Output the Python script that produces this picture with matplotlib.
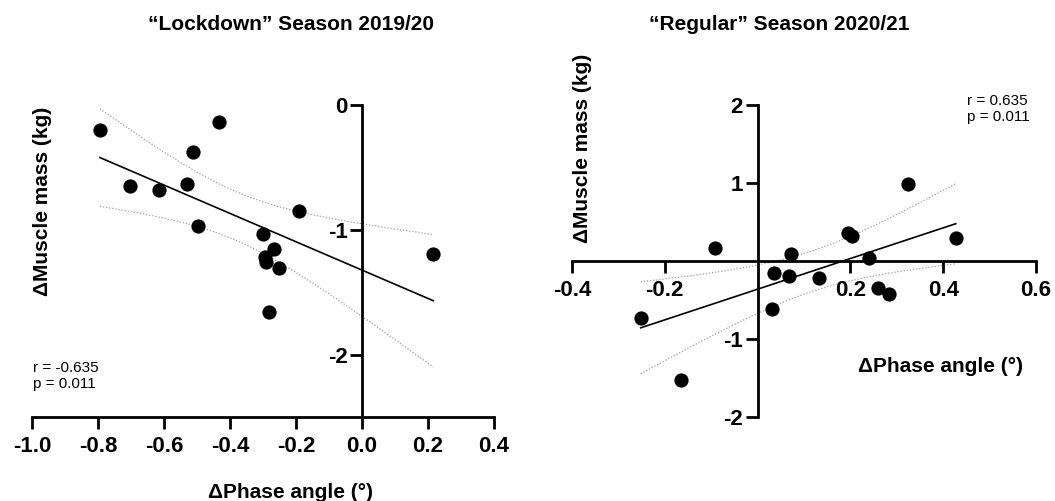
import numpy as np
import matplotlib
matplotlib.use("Agg")
import matplotlib.pyplot as plt

plt.rcParams['font.family'] = ['Liberation Sans', 'DejaVu Sans']
plt.rcParams['axes.unicode_minus'] = False

# ---- data ----
lock_phase = [-0.794, -0.434, -0.513, -0.703, -0.614, -0.531, -0.496, -0.191,
              -0.299, -0.267, -0.295, -0.290, -0.252, -0.283, 0.216]
lock_muscle = [-0.20, -0.14, -0.38, -0.65, -0.68, -0.63, -0.97, -0.85,
               -1.03, -1.15, -1.22, -1.26, -1.31, -1.66, -1.19]
reg_phase = [-0.252, -0.165, -0.091, 0.036, 0.072, 0.068, 0.031, 0.133,
             0.194, 0.203, 0.240, 0.260, 0.283, 0.325, 0.427]
reg_muscle = [-0.73, -1.52, 0.16, -0.16, 0.09, -0.20, -0.62, -0.22,
              0.36, 0.32, 0.04, -0.35, -0.43, 0.99, 0.29]
titles = ['\u201cLockdown\u201d Season 2019/20', '\u201cRegular\u201d Season 2020/21']
stats_text = ['r = -0.635\np = 0.011', 'r = 0.635\np = 0.011']
xlabel = '\u0394Phase angle (\u00b0)'
ylabel = '\u0394Muscle mass (kg)'
lock_xticks = [-1.0, -0.8, -0.6, -0.4, -0.2, 0.0, 0.2, 0.4]
lock_yticks = [0, -1, -2]
reg_xticks = [-0.4, -0.2, 0.2, 0.4, 0.6]
reg_yticks = [2, 1, -1, -2]
T_CRIT = 2.160  # t(0.975, df=13)

W, H = 1055, 501
fig = plt.figure(figsize=(W / 100, H / 100), dpi=100)

def fx(px):
    return px / W

def fy(py):
    return 1 - py / H

def fit_plot(ax, x, y):
    x = np.asarray(x); y = np.asarray(y)
    n = len(x)
    b, a = np.polyfit(x, y, 1)
    xs = np.linspace(x.min(), x.max(), 200)
    yh = a + b * xs
    resid = y - (a + b * x)
    s = np.sqrt(np.sum(resid ** 2) / (n - 2))
    sxx = np.sum((x - x.mean()) ** 2)
    se = s * np.sqrt(1 / n + (xs - x.mean()) ** 2 / sxx)
    ax.plot(xs, yh, color='black', lw=1.2, zorder=2)
    ax.plot(xs, yh + T_CRIT * se, color='#a0a0a0', lw=0.9, ls=(0, (1, 1.5)), zorder=1)
    ax.plot(xs, yh - T_CRIT * se, color='#a0a0a0', lw=0.9, ls=(0, (1, 1.5)), zorder=1)
    ax.scatter(x, y, s=105, color='black', zorder=3, linewidths=0)

def style(ax):
    for sp in ['top', 'right']:
        ax.spines[sp].set_visible(False)
    for sp in ['left', 'bottom']:
        ax.spines[sp].set_linewidth(2.0)
    ax.tick_params(width=2.0, length=8.5, labelsize=16, pad=2)
    for lab in ax.get_xticklabels() + ax.get_yticklabels():
        lab.set_fontweight('bold')
    ax.patch.set_alpha(0)

# Left panel
ax1 = fig.add_axes([fx(32), fy(417), fx(494) - fx(32), fy(105) - fy(417)])
fit_plot(ax1, lock_phase, lock_muscle)
ax1.set_xlim(-1.0, 0.4)
ax1.set_ylim(-2.5, 0)
ax1.spines['left'].set_position(('data', 0))
ax1.set_xticks(lock_xticks)
ax1.set_xticklabels([f'{v:.1f}' for v in lock_xticks])
ax1.set_yticks(lock_yticks)
ax1.set_yticklabels([f'{v:d}' for v in lock_yticks])
style(ax1)
ax1.tick_params(axis='x', pad=5)

# Right panel
ax2 = fig.add_axes([fx(572), fy(417), fx(1036) - fx(572), fy(104.7) - fy(417)])
fit_plot(ax2, reg_phase, reg_muscle)
ax2.set_xlim(-0.4, 0.6)
ax2.set_ylim(-2, 2)
ax2.spines['left'].set_position(('data', 0))
ax2.spines['bottom'].set_position(('data', 0))
ax2.set_xticks(reg_xticks)
ax2.set_xticklabels([f'{v:.1f}' for v in reg_xticks])
ax2.set_yticks(reg_yticks)
ax2.set_yticklabels([f'{v:d}' for v in reg_yticks])
style(ax2)
ax2.tick_params(axis='x', pad=5)

# Titles
fig.text(fx(291), fy(25), titles[0], ha='center', va='center', fontsize=15, fontweight='bold')
fig.text(fx(779), fy(25), titles[1], ha='center', va='center', fontsize=15, fontweight='bold')

# Axis labels
fig.text(fx(43), fy(201), ylabel, rotation=90, ha='center', va='center', fontsize=15, fontweight='bold')
fig.text(fx(583), fy(148), ylabel, rotation=90, ha='center', va='center', fontsize=15, fontweight='bold')
fig.text(fx(290), fy(493), xlabel, ha='center', va='center', fontsize=15, fontweight='bold')
fig.text(fx(940), fy(367), xlabel, ha='center', va='center', fontsize=15, fontweight='bold')

# Stats
fig.text(fx(33), fy(376), stats_text[0], ha='left', va='center', fontsize=11, linespacing=1.25)
fig.text(fx(967), fy(109), stats_text[1], ha='left', va='center', fontsize=11, linespacing=1.25)

fig.savefig('out.png', dpi=100)
